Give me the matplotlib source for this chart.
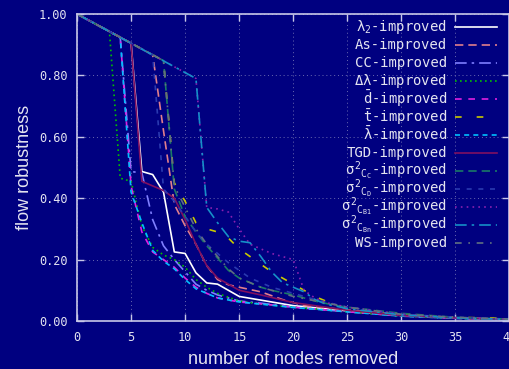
import matplotlib
matplotlib.use("Agg")
import matplotlib.pyplot as plt

# ---- data ----
lam2_x = [0, 5, 6, 7, 8, 9, 10, 11, 12, 13, 15, 17, 20, 23, 25, 30, 35, 40]
lam2_y = [1.0, 0.905, 0.487, 0.477, 0.42, 0.225, 0.22, 0.157, 0.124, 0.12, 0.08, 0.068, 0.05, 0.04, 0.033, 0.018, 0.01, 0.005]

as_x = [0, 7, 8, 9, 10, 11, 12, 13, 14, 15, 17, 19, 21, 25, 30, 35, 40]
as_y = [1.0, 0.867, 0.62, 0.38, 0.31, 0.25, 0.18, 0.135, 0.118, 0.11, 0.095, 0.07, 0.05, 0.036, 0.02, 0.01, 0.005]

cc_x = [0, 4, 5, 6, 7, 8, 9, 10, 11, 12, 13, 15, 17, 20, 25, 30, 35, 40]
cc_y = [1.0, 0.924, 0.487, 0.482, 0.33, 0.245, 0.2, 0.16, 0.12, 0.1, 0.085, 0.065, 0.058, 0.045, 0.03, 0.016, 0.009, 0.004]

dlam_x = [0, 3, 4, 5, 6, 7, 8, 9, 10, 11, 12, 13, 15, 17, 20, 25, 30, 35, 40]
dlam_y = [1.0, 0.943, 0.465, 0.455, 0.31, 0.24, 0.215, 0.2, 0.175, 0.135, 0.11, 0.09, 0.065, 0.055, 0.045, 0.03, 0.016, 0.009, 0.004]

dbar_x = [0, 4, 5, 6, 7, 8, 9, 10, 11, 12, 13, 15, 17, 20, 25, 30, 35, 40]
dbar_y = [1.0, 0.924, 0.44, 0.29, 0.225, 0.2, 0.175, 0.14, 0.11, 0.09, 0.075, 0.062, 0.056, 0.045, 0.03, 0.017, 0.009, 0.004]

tbar_x = [0, 8, 9, 10, 11, 12, 13, 14, 15, 16, 17, 18, 19, 20, 21, 22, 23, 24, 25, 26, 28, 30, 33, 35, 38, 40]
tbar_y = [1.0, 0.848, 0.45, 0.39, 0.32, 0.30, 0.29, 0.27, 0.235, 0.21, 0.185, 0.16, 0.14, 0.12, 0.10, 0.08, 0.065, 0.052, 0.04, 0.032, 0.025, 0.02, 0.015, 0.012, 0.01, 0.008]

lbar_x = [0, 4, 5, 6, 7, 8, 9, 10, 11, 12, 13, 15, 17, 20, 25, 30, 35, 40]
lbar_y = [1.0, 0.924, 0.42, 0.32, 0.23, 0.195, 0.17, 0.135, 0.105, 0.09, 0.075, 0.062, 0.055, 0.044, 0.03, 0.016, 0.009, 0.004]

tgd_x = [0, 5, 6, 7, 8, 9, 10, 11, 12, 13, 14, 15, 17, 20, 25, 30, 35, 40]
tgd_y = [1.0, 0.905, 0.455, 0.44, 0.425, 0.40, 0.33, 0.25, 0.18, 0.14, 0.12, 0.10, 0.085, 0.06, 0.035, 0.018, 0.01, 0.005]

scc_x = [0, 8, 9, 10, 11, 12, 13, 14, 15, 16, 17, 18, 20, 22, 24, 25, 30, 35, 40]
scc_y = [1.0, 0.848, 0.43, 0.34, 0.29, 0.245, 0.205, 0.165, 0.14, 0.125, 0.11, 0.1, 0.085, 0.065, 0.05, 0.045, 0.025, 0.012, 0.006]

scd_x = [0, 7, 8, 9, 10, 11, 12, 13, 14, 15, 16, 18, 20, 22, 25, 30, 35, 40]
scd_y = [1.0, 0.867, 0.43, 0.39, 0.34, 0.29, 0.25, 0.22, 0.19, 0.165, 0.14, 0.11, 0.09, 0.07, 0.045, 0.022, 0.012, 0.006]

scb1_x = [0, 11, 12, 13, 14, 15, 16, 17, 18, 19, 20, 21, 22, 23, 25, 30, 35, 40]
scb1_y = [1.0, 0.79, 0.37, 0.365, 0.355, 0.3, 0.25, 0.235, 0.22, 0.21, 0.2, 0.1, 0.075, 0.06, 0.045, 0.022, 0.011, 0.006]

scbn_x = [0, 11, 12, 13, 14, 15, 16, 17, 18, 19, 20, 21, 22, 23, 24, 25, 30, 35, 40]
scbn_y = [1.0, 0.79, 0.37, 0.32, 0.275, 0.26, 0.255, 0.21, 0.16, 0.125, 0.11, 0.095, 0.07, 0.055, 0.048, 0.04, 0.02, 0.01, 0.005]

ws_x = [0, 8, 9, 10, 11, 12, 13, 14, 15, 17, 20, 25, 30, 35, 40]
ws_y = [1.0, 0.848, 0.44, 0.37, 0.3, 0.25, 0.21, 0.17, 0.14, 0.11, 0.08, 0.045, 0.022, 0.012, 0.006]

labels = [r'$\lambda_2$-improved', 'As-improved', 'CC-improved', r'$\Delta\lambda$-improved',
          r'$\bar{d}$-improved', r'$\bar{t}$-improved', r'$\bar{\lambda}$-improved', 'TGD-improved',
          r'$\sigma^2{}_{C_C}$-improved', r'$\sigma^2{}_{C_D}$-improved',
          r'$\sigma^2{}_{C_{B1}}$-improved', r'$\sigma^2{}_{C_{Bn}}$-improved', 'WS-improved']

xs = [lam2_x, as_x, cc_x, dlam_x, dbar_x, tbar_x, lbar_x, tgd_x, scc_x, scd_x, scb1_x, scbn_x, ws_x]
ys = [lam2_y, as_y, cc_y, dlam_y, dbar_y, tbar_y, lbar_y, tgd_y, scc_y, scd_y, scb1_y, scbn_y, ws_y]

# ---- style ----
BG = '#000080'
FG = '#e4e4f0'
colors = ['#ffffff', '#e07f8c', '#7f7fff', '#00c000', '#e020e0', '#c8c800', '#00c0ff',
          '#801060', '#1a7a66', '#2a3ab0', '#8a20b0', '#1590c8', '#607080']
styles = ['-', (0, (5, 3)), (0, (7, 3, 1.5, 3)), (0, (1, 2)), (0, (4, 4)), (0, (4, 9)),
          (0, (3, 2.5)), '-', (0, (5, 3)), (0, (3, 4)), (0, (1, 2.5)), (0, (7, 3, 1.5, 3)),
          (0, (4, 4, 1, 4))]

plt.rcParams['mathtext.fontset'] = 'custom'
plt.rcParams['mathtext.rm'] = 'DejaVu Sans Mono'
plt.rcParams['mathtext.it'] = 'DejaVu Sans Mono'
plt.rcParams['mathtext.bf'] = 'DejaVu Sans Mono'

W, H = 510, 369
AX_L, AX_B, AX_W, AX_H = 77, 48, 432.5, 307

fig = plt.figure(figsize=(W / 100, H / 100), dpi=100)
fig.patch.set_facecolor(BG)
ax = fig.add_axes([AX_L / W, AX_B / H, AX_W / W, AX_H / H])
ax.set_facecolor(BG)

for x, y, c, ls in zip(xs, ys, colors, styles):
    ax.plot(x, y, color=c, ls=ls, lw=1.2)

ax.set_xlim(0, 40)
ax.set_ylim(0, 1.0)
ax.set_xticks(range(0, 41, 5))
ax.set_yticks([0, 0.2, 0.4, 0.6, 0.8, 1.0])
ax.set_yticklabels([f'{v:.2f}' for v in [0, 0.2, 0.4, 0.6, 0.8, 1.0]])
ax.grid(True, color='#6a6ab0', ls=(0, (1, 3)), lw=0.7)

for s in ax.spines.values():
    s.set_color('#c8c8e8')
    s.set_linewidth(1.2)
ax.tick_params(direction='in', length=5, width=1, colors='#c8c8e8',
               top=True, right=True, labelsize=8.6, pad=7)
for t in ax.get_xticklabels() + ax.get_yticklabels():
    t.set_family('DejaVu Sans Mono')
    t.set_color(FG)

ax.set_xlabel('number of nodes removed', fontsize=13, color=FG,
              family='Liberation Sans', labelpad=5)
ax.set_ylabel('flow robustness', fontsize=13, color=FG,
              family='Liberation Sans', labelpad=4)

# gnuplot-style key: right-aligned text, sample line to its right, fixed row pitch
key_top, key_step = 27, 18.0          # pixel rows from figure top
txt_r, smp_l, smp_r = 447, 455, 497   # pixel columns
to_ax_x = lambda px: (px - AX_L) / AX_W
to_ax_y = lambda py: (H - py - AX_B) / AX_H
for i, (lb, c, ls) in enumerate(zip(labels, colors, styles)):
    yy = to_ax_y(key_top + i * key_step)
    ax.text(to_ax_x(txt_r), yy, lb, ha='right', va='center', color=FG,
            family='DejaVu Sans Mono', fontsize=10, transform=ax.transAxes)
    ax.plot([to_ax_x(smp_l), to_ax_x(smp_r)], [yy, yy], color=c, ls=ls, lw=1.2,
            transform=ax.transAxes, clip_on=False)

fig.savefig('out.png', dpi=100, facecolor=BG)
